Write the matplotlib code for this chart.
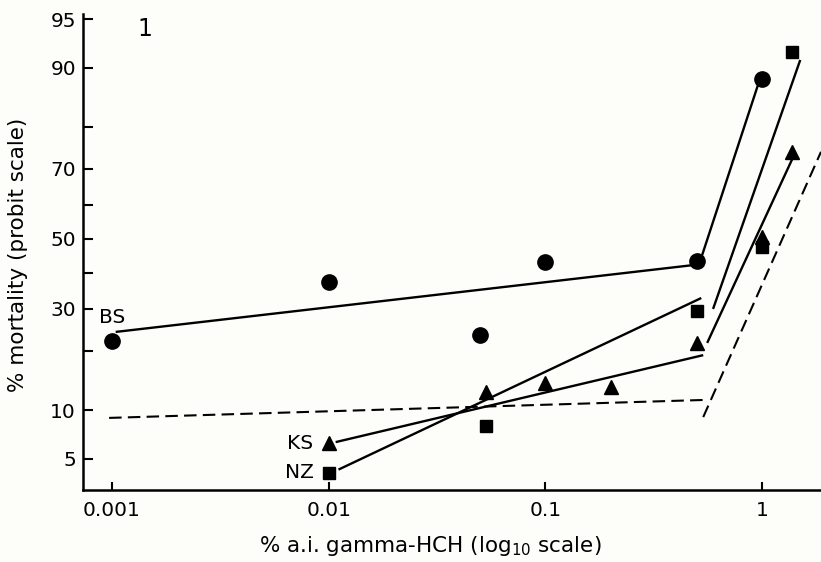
import numpy as np
import matplotlib
matplotlib.use("Agg")
import matplotlib.pyplot as plt
from statistics import NormalDist

# dose (% a.i. gamma-HCH) and % mortality
bs_dose = [0.001, 0.01, 0.05, 0.1, 0.5, 1.0]
bs_mort = [22.2, 37.4, 23.6, 43.2, 43.5, 88.5]
nz_dose = [0.01, 0.053, 0.5, 1.0, 1.37]
nz_mort = [4.0, 8.1, 29.5, 47.6, 91.9]
ks_dose = [0.01, 0.053, 0.1, 0.2, 0.5, 1.0, 1.37]
ks_mort = [6.3, 12.6, 14.0, 13.4, 21.8, 50.6, 74.3]

# fitted lines (two segments per strain), endpoints
bs_fit1_x, bs_fit1_y = [0.00104, 0.491], [24.3, 42.3]
bs_fit2_x, bs_fit2_y = [0.529, 0.958], [45.2, 87.6]
nz_fit1_x, nz_fit1_y = [0.0111, 0.524], [4.2, 32.9]
nz_fit2_x, nz_fit2_y = [0.594, 1.50], [30.0, 91.0]
ks_fit1_x, ks_fit1_y = [0.01077, 0.535], [6.4, 19.2]
ks_fit2_x, ks_fit2_y = [0.558, 1.419], [21.8, 74.0]
ctrl1_x, ctrl1_y = [0.00097, 0.558], [9.0, 11.4]
ctrl2_x, ctrl2_y = [0.535, 1.87], [9.1, 74.3]

x_ticks = [0.001, 0.01, 0.1, 1]
x_labels = ["0.001", "0.01", "0.1", "1"]
y_major = [5, 10, 30, 50, 70, 90, 95]
y_minor = [20, 40, 60, 80]

_nd = NormalDist()
_inv = np.vectorize(_nd.inv_cdf, otypes=[float])
_cdf = np.vectorize(_nd.cdf, otypes=[float])


def probit(p):
    p = np.clip(np.asarray(p, dtype=float) / 100.0, 1e-9, 1 - 1e-9)
    return _inv(p)


def inv_probit(z):
    return _cdf(np.asarray(z, dtype=float)) * 100.0


bg = "#fdfdfa"
plt.rcParams["font.family"] = "DejaVu Sans"

fig = plt.figure(figsize=(8.21, 5.62), dpi=100, facecolor=bg)
ax = fig.add_axes([83 / 821, 1 - 490 / 562, (821 - 83) / 821, (490 - 14) / 562])
ax.set_facecolor(bg)
ax.set_xscale("log")
ax.set_yscale("function", functions=(probit, inv_probit))
ax.set_xlim(7.35e-4, 1.87)
ax.set_ylim(3.0, 95.4)

lw = 1.7
for xs, ys in [(bs_fit1_x, bs_fit1_y), (bs_fit2_x, bs_fit2_y),
               (nz_fit1_x, nz_fit1_y), (nz_fit2_x, nz_fit2_y),
               (ks_fit1_x, ks_fit1_y), (ks_fit2_x, ks_fit2_y)]:
    ax.plot(xs, ys, color="black", lw=lw, solid_capstyle="butt", zorder=2)
for xs, ys in [(ctrl1_x, ctrl1_y), (ctrl2_x, ctrl2_y)]:
    ax.plot(xs, ys, color="black", lw=1.5, linestyle=(0, (6, 3)), zorder=2)

ax.plot(bs_dose, bs_mort, "o", color="black", ms=11, ls="none", zorder=3, clip_on=False)
ax.plot(nz_dose, nz_mort, "s", color="black", ms=8.5, ls="none", zorder=3, clip_on=False)
ax.plot(ks_dose, ks_mort, "^", color="black", ms=9.5, ls="none", zorder=3, clip_on=False)

fs = 14.5
ax.annotate("BS", xy=(bs_dose[0], bs_mort[0]), xytext=(0, 17), textcoords="offset points",
            ha="center", va="center", fontsize=fs)
ax.annotate("KS", xy=(ks_dose[0], ks_mort[0]), xytext=(-11, 0), textcoords="offset points",
            ha="right", va="center", fontsize=fs)
ax.annotate("NZ", xy=(nz_dose[0], nz_mort[0]), xytext=(-11, 0), textcoords="offset points",
            ha="right", va="center", fontsize=fs)

ax.set_xticks(x_ticks)
ax.set_xticklabels(x_labels)
ax.xaxis.set_minor_locator(matplotlib.ticker.NullLocator())
ax.set_yticks(y_major)
ax.set_yticklabels([str(v) for v in y_major])
ax.set_yticks(y_minor, minor=True)
ax.set_yticklabels([], minor=True)

ax.tick_params(axis="both", which="both", direction="in", width=1.5, color="black",
               labelsize=fs)
ax.tick_params(axis="y", which="both", length=7, pad=5)
ax.tick_params(axis="x", which="both", length=6, pad=8)

for side in ["top", "right"]:
    ax.spines[side].set_visible(False)
for side in ["left", "bottom"]:
    ax.spines[side].set_linewidth(1.8)

fig.text(430 / 821, 1 - 546 / 562, "% a.i. gamma-HCH (log$_{10}$ scale)",
         ha="center", va="center", fontsize=15.5)
fig.text(18 / 821, 1 - 255 / 562, "% mortality (probit scale)",
         ha="center", va="center", rotation=90, fontsize=15.5)
fig.text(145 / 821, 1 - 29 / 562, "1", ha="center", va="center", fontsize=17)

fig.savefig("out.png", dpi=100, facecolor=bg)
